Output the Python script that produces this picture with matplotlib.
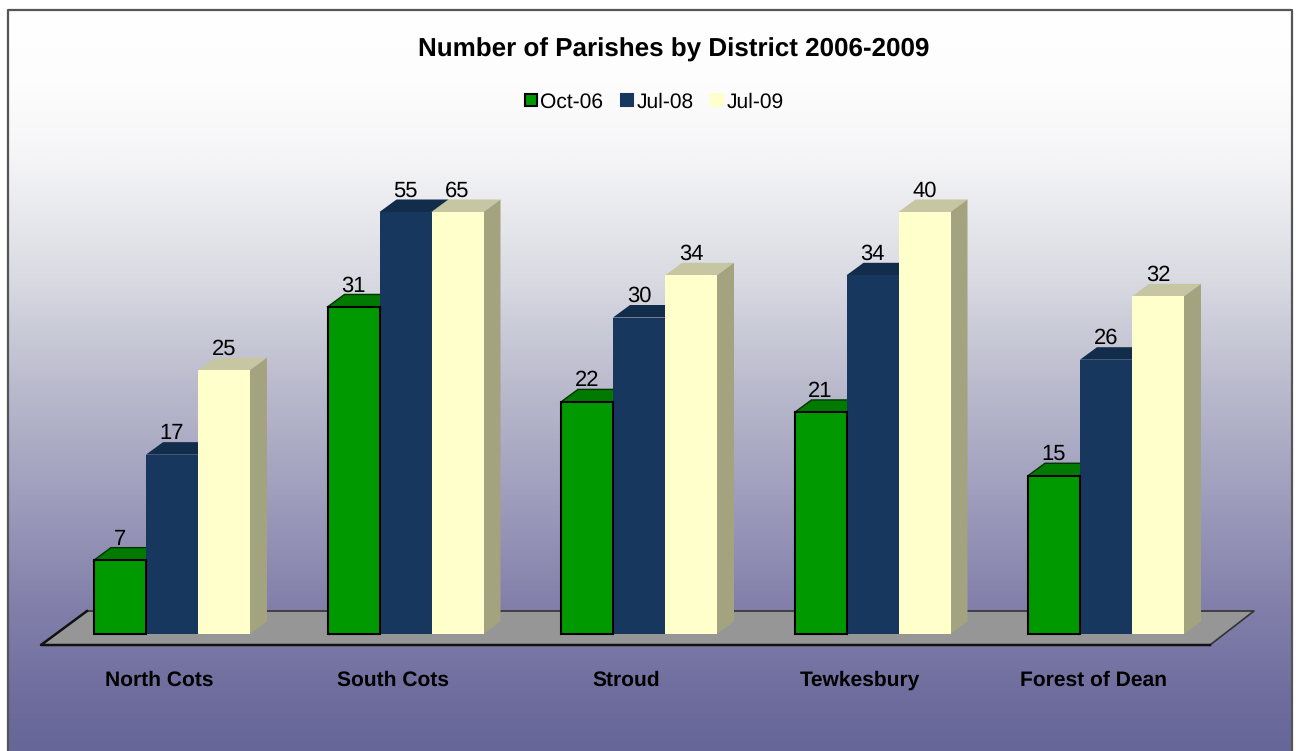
import numpy as np
import matplotlib
matplotlib.use('Agg')
import matplotlib.pyplot as plt
from matplotlib.patches import Patch

plt.rcParams['font.family'] = ['Liberation Sans', 'DejaVu Sans']
plt.rcParams['text.hinting'] = 'no_hinting'
plt.rcParams['text.hinting_factor'] = 1

# data
districts = ['North Cots', 'South Cots', 'Stroud', 'Tewkesbury', 'Forest of Dean']
oct_06 = [7, 31, 22, 21, 15]
jul_08 = [17, 55, 30, 34, 26]
jul_09 = [25, 65, 34, 40, 32]
series_names = ['Oct-06', 'Jul-08', 'Jul-09']

# the original value axis stops at 40, taller bars get cut off there
y_max = 40

# front, top, side colour
green = ('#009900', '#007a00', '#006600')
navy = ('#17375e', '#122c4b', '#10284a')
cream = ('#ffffcc', '#c6c6a2', '#a3a380')

W, H = 1296, 751
px_x = 233.5   # pixels per category
px_y = 10.55   # pixels per parish
x0_px, y0_px = 172, 634

fig = plt.figure(figsize=(W / 100, H / 100), dpi=100)
ax = fig.add_axes([0, 0, 1, 1])
xlim = (-x0_px / px_x, (W - x0_px) / px_x)
ylim = ((y0_px - H) / px_y, y0_px / px_y)


def X(p):
    return (p - x0_px) / px_x


def Y(p):
    return (y0_px - p) / px_y


# background with vertical gradient, white outside the frame
left, right, top = X(7.5), X(1291.5), Y(9.5)
grad = np.linspace(0, 1, 512).reshape(-1, 1)
bg_stops = [(0, '#ffffff'), (0.1, '#fdfdfd'), (0.2, '#f5f5f7'), (0.35, '#dcdde4'),
            (0.5, '#bcbcce'), (0.65, '#a09fbe'), (0.8, '#8381ab'), (0.92, '#706e9e'),
            (1, '#666699')]
cmap = matplotlib.colors.LinearSegmentedColormap.from_list('bg', bg_stops)
ax.imshow(grad, cmap=cmap, aspect='auto', origin='upper',
          extent=(left, right, ylim[0], top), zorder=0)
ax.plot([left, left, right, right], [ylim[0], top, top, ylim[0]],
        color='#555555', lw=1.6, zorder=1)

# floor
fx = [X(41), X(1210), X(1254), X(87)]
fy = [Y(645), Y(645), Y(611), Y(611)]
ax.fill(fx, fy, color='#969696', lw=0, zorder=2)
ax.plot([fx[3], fx[2], fx[1]], [fy[3], fy[2], fy[1]], color='#333333', lw=1.2, zorder=2)
ax.plot([fx[3], fx[0], fx[1]], [fy[3], fy[0], fy[1]], color='#111111', lw=1.8, zorder=2)

bar_w = 52 / px_x
depth_x = 17 / px_x
depth_y = 12.5 / px_y
label_gap = 15.5 / px_y

all_series = [oct_06, jul_08, jul_09]
all_colors = [green, navy, cream]
edges = ['black', 'none', 'none']

for s, (vals, cols, edge) in enumerate(zip(all_series, all_colors, edges)):
    offset = (s - 1) * bar_w
    for i, v in enumerate(vals):
        h = min(v, y_max)
        x = i + offset
        xl, xr = x - bar_w / 2, x + bar_w / 2
        z = 3 + s + i * 3
        # top and side faces
        ax.fill([xl, xr, xr + depth_x, xl + depth_x], [h, h, h + depth_y, h + depth_y],
                color=cols[1], lw=0, zorder=z)
        ax.fill([xr, xr + depth_x, xr + depth_x, xr], [0, depth_y, h + depth_y, h],
                color=cols[2], lw=0, zorder=z)
        if edge != 'none':
            ax.plot([xl, xl + depth_x, xr + depth_x], [h, h + depth_y, h + depth_y],
                    color='#003300', lw=1, zorder=z)
            # black outline of the green bars stays on top of the navy ones
            z += 1.3
        ax.bar(x, h, width=bar_w, color=cols[0], edgecolor=edge,
               linewidth=1.5 if edge != 'none' else 0, zorder=z + 0.5)
        ax.text(x, h + label_gap, str(v), ha='center', va='baseline',
                fontsize=15.6, color='black', zorder=30)

# category labels sit on the floor front, a bit left of the bars
for i, name in enumerate(districts):
    ax.text(i - 13 / px_x, Y(686), name, ha='center', va='baseline',
            fontsize=15, fontweight='bold', color='black', zorder=30)

ax.text(X(674), Y(57), 'Number of Parishes by District 2006-2009', ha='center', va='baseline',
        fontsize=18.8, fontweight='bold', color='black', zorder=30)

handles = [Patch(facecolor=c[0], edgecolor=e if e != 'none' else c[0], linewidth=1.5)
           for c, e in zip(all_colors, edges)]
ax.legend(handles, series_names, ncol=3, frameon=False, fontsize=15.3,
          loc='center', bbox_to_anchor=(654.5 / W, 1 - 102 / H),
          handlelength=0.55, handleheight=0.55, handletextpad=0.18,
          columnspacing=0.83, borderpad=0)

ax.set_xlim(xlim)
ax.set_ylim(ylim)
ax.axis('off')

fig.savefig('out.png', dpi=100, facecolor='white')
